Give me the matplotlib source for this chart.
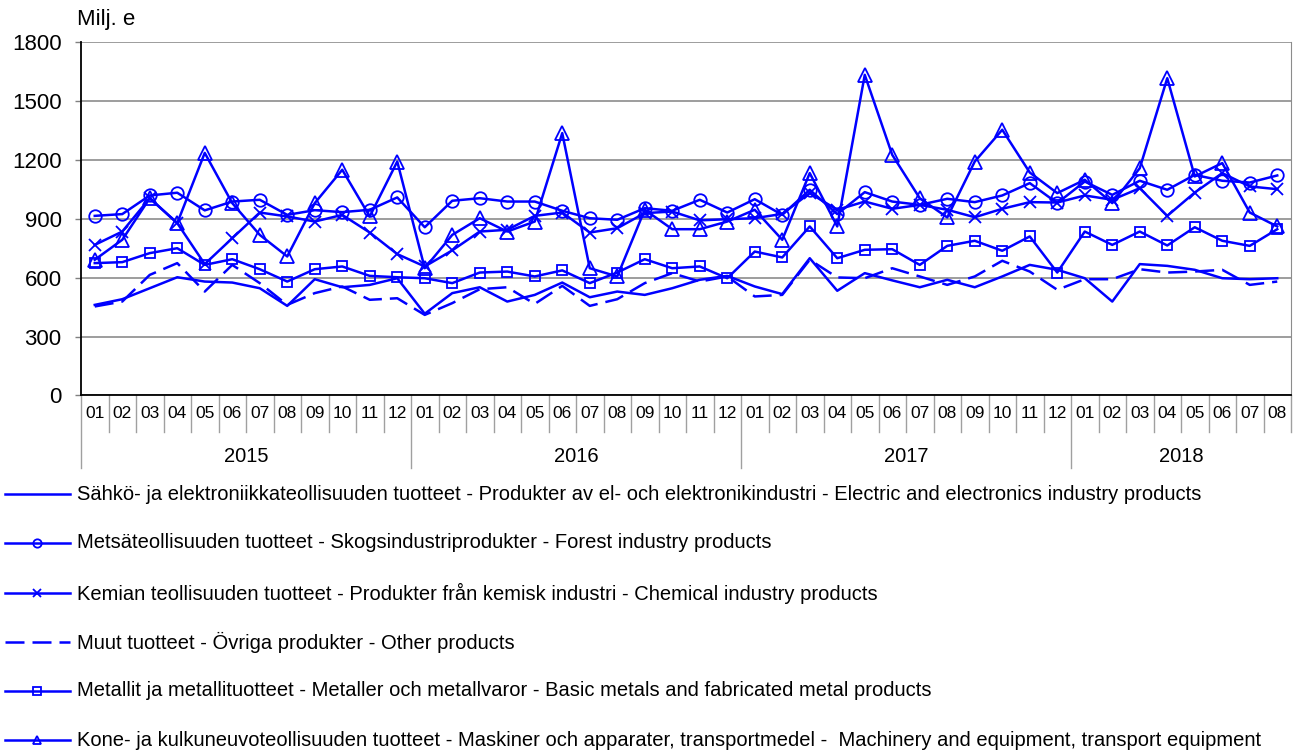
import matplotlib
matplotlib.use("Agg")
import matplotlib.pyplot as plt
from matplotlib.lines import Line2D
import matplotlib.transforms as mtransforms

plt.rcParams['font.family'] = ['Liberation Sans', 'DejaVu Sans']

years = ["2015", "2016", "2017", "2018"]
months_per_year = [12, 12, 12, 8]
month_labels = [f"{m:02d}" for n in months_per_year for m in range(1, n + 1)]

electric = [462, 491, 547, 603, 581, 576, 547, 457, 593, 552, 564, 598,
            417, 522, 552, 479, 513, 576, 501, 530, 513, 547, 590, 610,
            556, 517, 700, 534, 624, 587, 552, 590, 552, 607, 666, 641,
            598, 479, 670, 661, 641, 598, 593, 598]
forest = [916, 925, 1020, 1034, 944, 989, 998, 921, 945, 935, 947, 1010,
          858, 993, 1006, 989, 989, 942, 904, 896, 955, 942, 998, 933,
          1001, 921, 1049, 925, 1037, 989, 972, 1003, 986, 1020, 1083, 981,
          1091, 1023, 1095, 1049, 1125, 1095, 1086, 1122]
chemical = [768, 836, 1006, 879, 670, 802, 933, 913, 887, 921, 831, 721,
            658, 740, 836, 845, 916, 933, 831, 853, 930, 938, 893, 899,
            904, 926, 1032, 947, 989, 952, 972, 947, 909, 952, 986, 984,
            1020, 998, 1057, 916, 1035, 1134, 1066, 1052]
other = [454, 479, 615, 675, 530, 666, 573, 462, 522, 556, 488, 496,
         411, 471, 542, 552, 467, 559, 457, 491, 573, 624, 581, 607,
         505, 513, 692, 602, 598, 649, 607, 564, 607, 687, 632, 539,
         593, 593, 644, 627, 632, 641, 564, 581]
metals = [675, 680, 726, 751, 666, 695, 644, 581, 644, 658, 610, 603,
          598, 573, 627, 632, 607, 638, 573, 627, 695, 649, 658, 598,
          734, 704, 862, 700, 743, 746, 666, 763, 789, 738, 811, 627,
          836, 768, 836, 765, 858, 789, 763, 848]
machinery = [692, 794, 1006, 879, 1237, 981, 819, 709, 981, 1151, 913, 1193,
             649, 819, 904, 836, 887, 1338, 649, 607, 947, 848, 848, 887,
             947, 794, 1134, 862, 1635, 1227, 1006, 908, 1193, 1355, 1137, 1032,
             1100, 981, 1159, 1618, 1117, 1185, 933, 862]

labels = [
    "Sähkö- ja elektroniikkateollisuuden tuotteet - Produkter av el- och elektronikindustri - Electric and electronics industry products",
    "Metsäteollisuuden tuotteet - Skogsindustriprodukter - Forest industry products",
    "Kemian teollisuuden tuotteet - Produkter från kemisk industri - Chemical industry products",
    "Muut tuotteet - Övriga produkter - Other products",
    "Metallit ja metallituotteet - Metaller och metallvaror - Basic metals and fabricated metal products",
    "Kone- ja kulkuneuvoteollisuuden tuotteet - Maskiner och apparater, transportmedel -  Machinery and equipment, transport equipment",
]
yticks = [0, 300, 600, 900, 1200, 1500, 1800]

W, H = 1294, 751
fig = plt.figure(figsize=(W / 100, H / 100), dpi=100)
L, R, T, B = 81, 1291, 42.5, 395.5
ax = fig.add_axes([L / W, 1 - B / H, (R - L) / W, (B - T) / H])

blue = '#0000FF'
x = list(range(len(month_labels)))
dash = (0, (7.6, 3.2))
styles = [
    dict(series=electric, marker=None, ls='-', ms=0),
    dict(series=forest, marker='o', ls='-', ms=9),
    dict(series=chemical, marker='x', ls='-', ms=8),
    dict(series=other, marker=None, ls=dash, ms=0),
    dict(series=metals, marker='s', ls='-', ms=7.5),
    dict(series=machinery, marker='^', ls='-', ms=9.5),
]
for st in styles:
    ax.plot(x, st['series'], color=blue, lw=1.8, ls=st['ls'],
            marker=st['marker'], ms=st['ms'], mfc='none', mec=blue, mew=1.3,
            clip_on=False, zorder=3)

ax.set_xlim(-0.5, len(month_labels) - 0.5)
ax.set_ylim(0, 1800)
ax.set_yticks(yticks)
ax.set_yticklabels([str(v) for v in yticks], fontsize=16)
ax.tick_params(axis='y', length=4.5, width=1, color='#808080', pad=9.4)
ax.grid(axis='y', color='#8c8c8c', lw=1.2)
ax.set_axisbelow(True)
ax.set_xticks([])
ax.spines['top'].set_visible(False)
ax.spines['right'].set_color('#8c8c8c')
ax.spines['left'].set_color('black')
ax.spines['bottom'].set_color('black')
ax.spines['left'].set_linewidth(1.3)
ax.spines['bottom'].set_linewidth(1.3)

trans = mtransforms.blended_transform_factory(ax.transData, ax.transAxes)
ah = B - T
m_bot = -(432 - B) / ah
y_bot = -(468 - B) / ah
for i, lab in enumerate(month_labels):
    ax.text(i, -(414 - B) / ah, lab, transform=trans, ha='center', va='center',
            fontsize=12.5)
boundaries = [0]
for n in months_per_year:
    boundaries.append(boundaries[-1] + n)
for i in range(len(month_labels) + 1):
    xb = i - 0.5
    bottom = y_bot if i in boundaries[:-1] else m_bot
    ax.plot([xb, xb], [0, bottom], transform=trans, color='#a0a0a0', lw=1,
            clip_on=False)
for k, yr in enumerate(years):
    c = (boundaries[k] + boundaries[k + 1] - 1) / 2
    ax.text(c, -(457 - B) / ah, yr, transform=trans, ha='center', va='center',
            fontsize=14.5)

fig.text(77 / W, 1 - 20 / H, "Milj. e", fontsize=16, ha='left', va='center')

# legend (manual)
leg_y = [494, 543, 593, 642, 691, 740]
for st, lab, yy in zip(styles, labels, leg_y):
    fy = 1 - yy / H
    fig.add_artist(Line2D([5 / W, 70 / W], [fy, fy], color=blue, lw=1.8,
                          ls=st['ls'], transform=fig.transFigure))
    if st['marker']:
        fig.add_artist(Line2D([37 / W], [fy], marker=st['marker'], ms=6,
                              mfc='none', mec=blue, mew=1.3, color=blue,
                              transform=fig.transFigure))
    fig.text(77 / W, fy, lab, fontsize=14.5, ha='left', va='center')

fig.savefig("out.png", dpi=100)
